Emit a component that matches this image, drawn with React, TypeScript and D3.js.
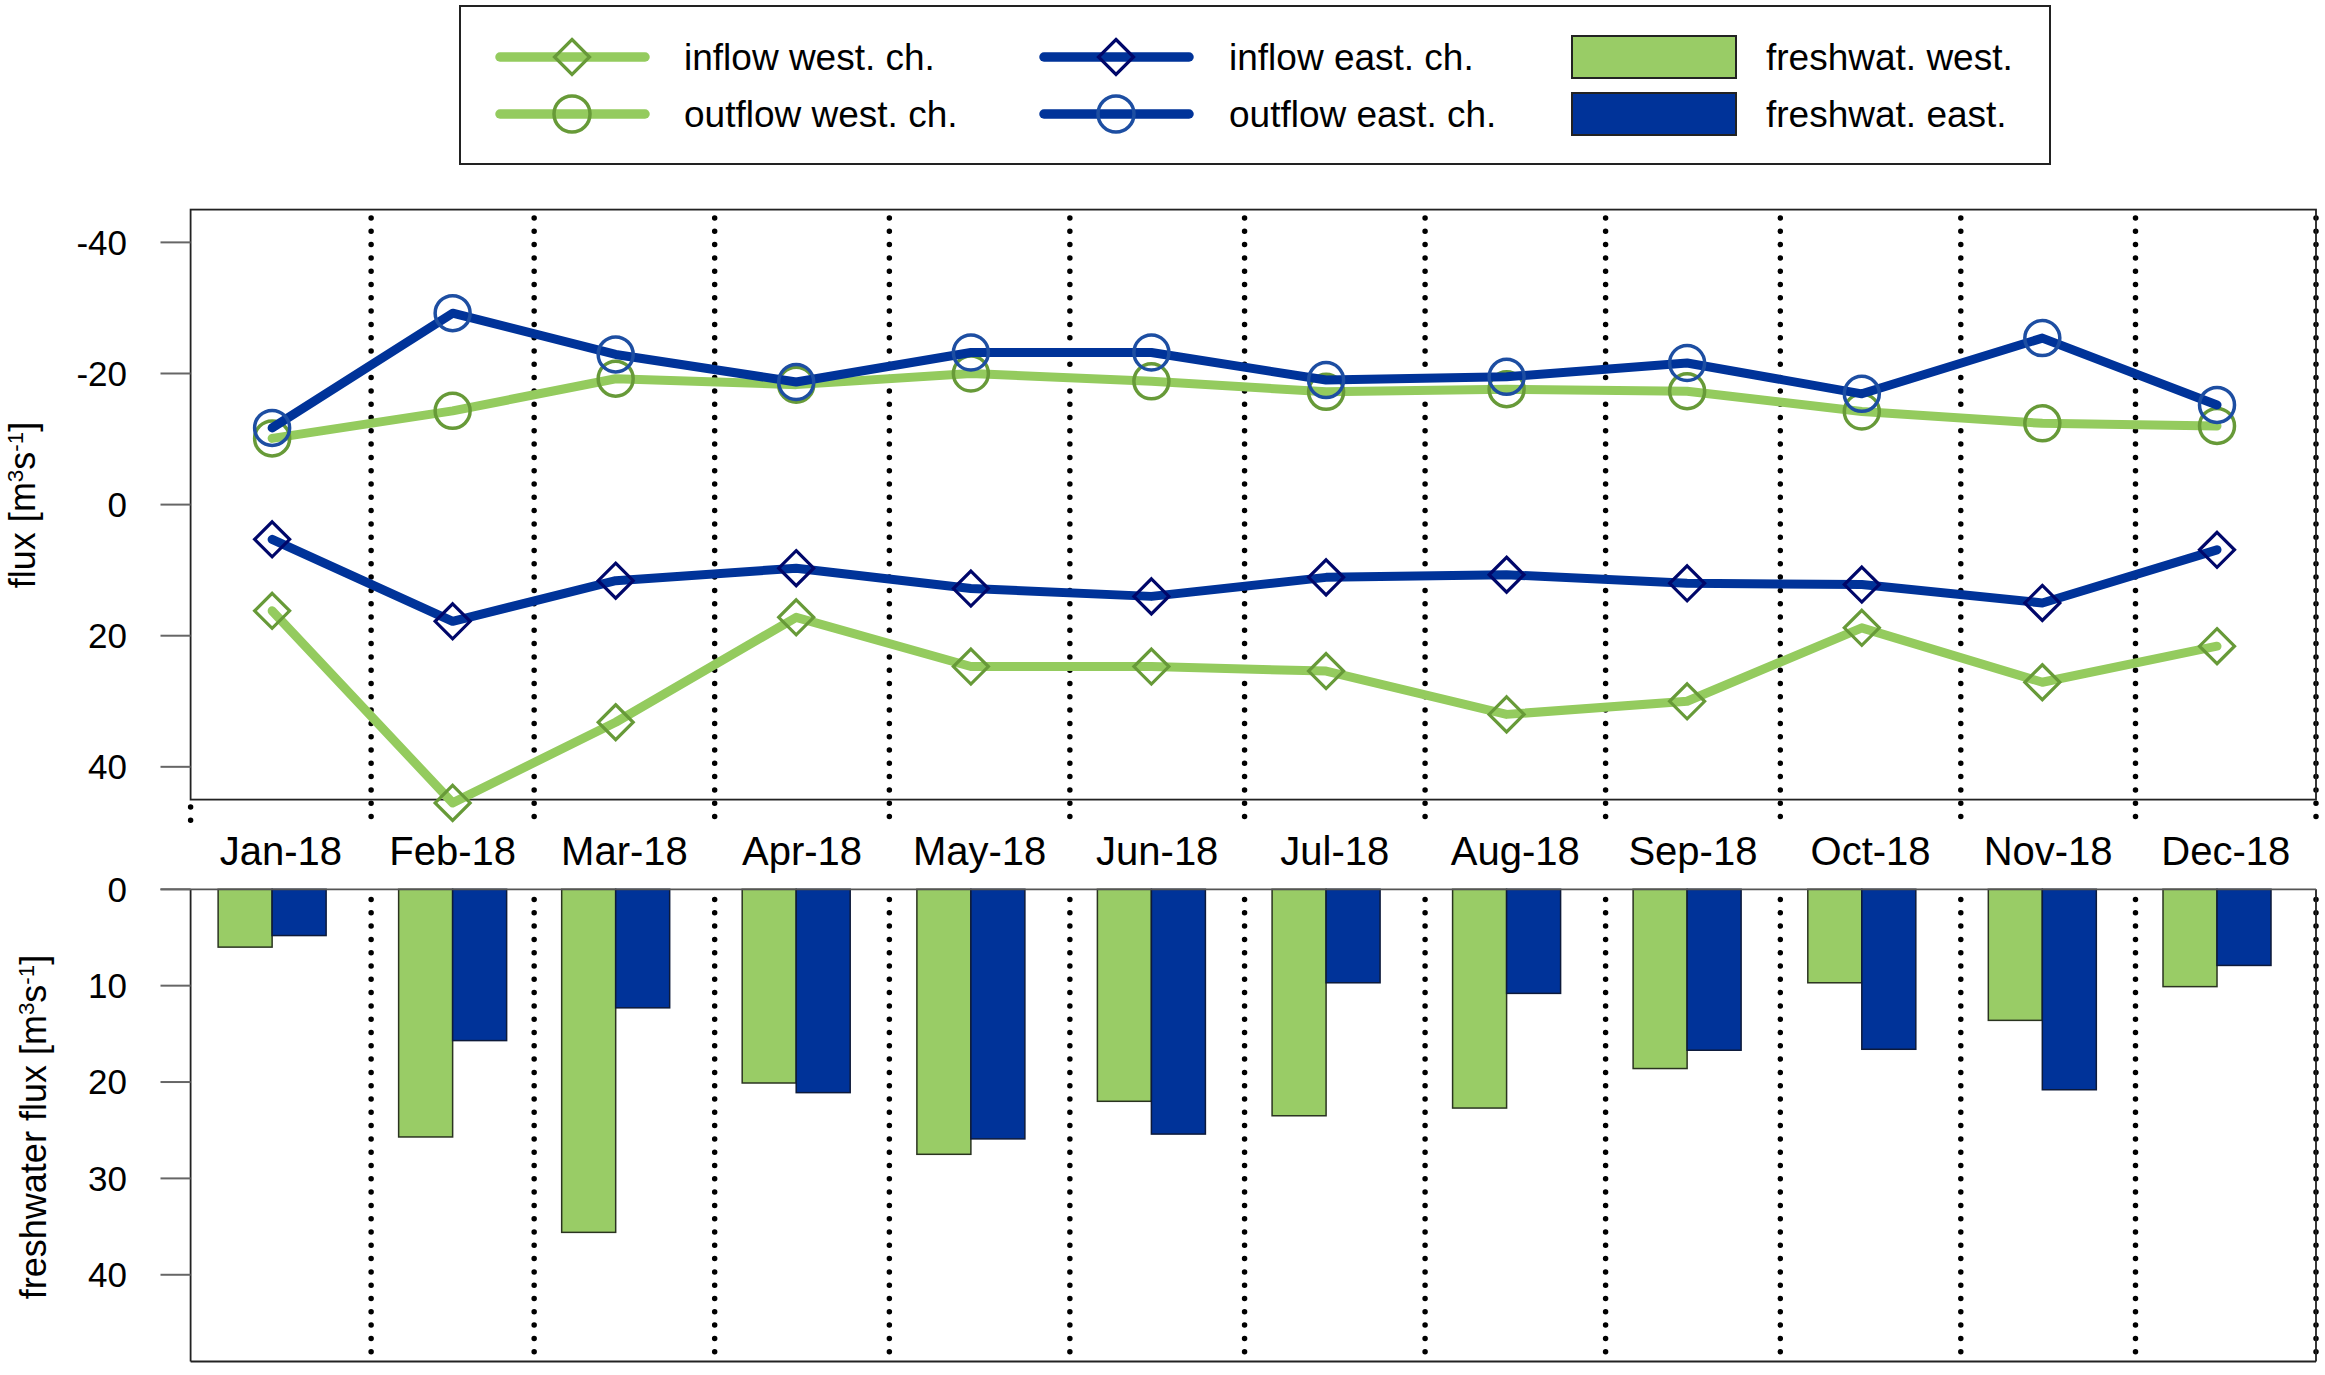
import React, { useEffect } from 'react';
import * as d3 from 'd3';

// ---------- data ----------
const months = ['Jan-18', 'Feb-18', 'Mar-18', 'Apr-18', 'May-18', 'Jun-18', 'Jul-18', 'Aug-18', 'Sep-18', 'Oct-18', 'Nov-18', 'Dec-18'];
const inflowWest = [16.2, 45.5, 33.2, 17.2, 24.7, 24.7, 25.4, 32.0, 30.0, 18.8, 27.1, 21.6];
const outflowWest = [-10.1, -14.3, -19.2, -18.3, -20.0, -18.8, -17.2, -17.6, -17.3, -14.2, -12.4, -12.0];
const inflowEast = [5.3, 17.8, 11.6, 9.7, 12.8, 14.0, 11.1, 10.7, 12.0, 12.2, 15.0, 6.9];
const outflowEast = [-11.7, -29.2, -22.9, -18.7, -23.2, -23.2, -19.0, -19.5, -21.6, -16.9, -25.4, -15.2];
const freshWest = [6.0, 25.7, 35.6, 20.1, 27.5, 22.0, 23.5, 22.7, 18.6, 9.7, 13.6, 10.1];
const freshEast = [4.8, 15.7, 12.3, 21.1, 25.9, 25.4, 9.7, 10.8, 16.7, 16.6, 20.8, 7.9];
const upperTicks = [-40, -20, 0, 20, 40];
const lowerTicks = [0, 10, 20, 30, 40];
const legendLabels = ['inflow west. ch.', 'outflow west. ch.', 'inflow east. ch.', 'outflow east. ch.', 'freshwat. west.', 'freshwat. east.'];

// ---------- styles ----------
const FONT = '"Liberation Sans", Arial, sans-serif';
const GREEN_LINE = '#94cb5e';
const GREEN_MARK = '#679a38';
const GREEN_BAR = '#99cc66';
const BLUE_LINE = '#003399';
const BLUE_CIRCLE = '#1d4ea2';
const BLUE_DIAMOND = '#00076a';
const BLUE_BAR = '#003399';

const diamondPath = (r: number) => `M0,${-r}L${r},0L0,${r}L${-r},0Z`;

export default function App() {
  useEffect(() => {
    document.body.style.margin = '0';
  }, []);

  const W = 2325;
  const H = 1375;
  const left = 190.6;
  const right = 2316;

  const x = d3
    .scaleUtc()
    .domain([new Date(Date.UTC(2018, 0, 1)), new Date(Date.UTC(2019, 0, 1))])
    .range([left, right]);
  const yU = d3.scaleLinear().domain([-45, 45]).range([209.6, 799.6]);
  const yL = d3.scaleLinear().domain([0, 49]).range([889.3, 1361.5]);

  const pointDates = months.map((_, i) => new Date(Date.UTC(2018, i, 15)));
  const midDates = months.map(
    (_, i) => new Date((Date.UTC(2018, i, 1) + Date.UTC(2018, i + 1, 1)) / 2)
  );
  const boundaries = d3.utcMonth.range(new Date(Date.UTC(2018, 0, 1)), new Date(Date.UTC(2019, 0, 2)));

  const line = d3
    .line<number>()
    .x((_, i) => x(pointDates[i]))
    .y((d) => yU(d));

  const series = [
    { values: inflowWest, color: GREEN_LINE, mark: 'diamond', mcolor: GREEN_MARK },
    { values: outflowWest, color: GREEN_LINE, mark: 'circle', mcolor: GREEN_MARK },
    { values: inflowEast, color: BLUE_LINE, mark: 'diamond', mcolor: BLUE_DIAMOND },
    { values: outflowEast, color: BLUE_LINE, mark: 'circle', mcolor: BLUE_CIRCLE },
  ];

  const barW = 54;
  const axisColor = '#222';
  const tickColor = '#666';

  const dotted = { stroke: '#000', strokeWidth: 5.5, strokeDasharray: '0 13.3', strokeLinecap: 'round' as const };

  const supText = (prefix: string, x0: number, y0: number, fs: number) => (
    <text
      transform={`translate(${x0},${y0}) rotate(-90)`}
      textAnchor="middle"
      fontSize={fs}
      fontFamily={FONT}
      fill="#000"
    >
      {prefix}[m
      <tspan baselineShift="super" fontSize={fs * 0.62}>3</tspan>
      s
      <tspan baselineShift="super" fontSize={fs * 0.62}>-1</tspan>]
    </text>
  );

  // legend layout
  const legRows = [57, 114];
  const legendLines = [
    { x1: 500, x2: 645, mx: 572, row: 0, color: GREEN_LINE, mark: 'diamond', mcolor: GREEN_MARK, tx: 684, label: legendLabels[0] },
    { x1: 500, x2: 645, mx: 572, row: 1, color: GREEN_LINE, mark: 'circle', mcolor: GREEN_MARK, tx: 684, label: legendLabels[1] },
    { x1: 1044, x2: 1189, mx: 1116, row: 0, color: BLUE_LINE, mark: 'diamond', mcolor: BLUE_DIAMOND, tx: 1229, label: legendLabels[2] },
    { x1: 1044, x2: 1189, mx: 1116, row: 1, color: BLUE_LINE, mark: 'circle', mcolor: BLUE_CIRCLE, tx: 1229, label: legendLabels[3] },
  ];
  const legendRects = [
    { fill: GREEN_BAR, row: 0, label: legendLabels[4] },
    { fill: BLUE_BAR, row: 1, label: legendLabels[5] },
  ];

  return (
    <svg width={W} height={H} style={{ display: 'block', background: '#fff' }} fontFamily={FONT}>
      <rect x={0} y={0} width={W} height={H} fill="#fff" />

      {/* ---------- legend ---------- */}
      <rect x={460} y={6} width={1590} height={158} fill="#fff" stroke="#222" strokeWidth={2} />
      {legendLines.map((l, i) => (
        <g key={'ll' + i}>
          <line x1={l.x1} x2={l.x2} y1={legRows[l.row]} y2={legRows[l.row]} stroke={l.color} strokeWidth={9.5} strokeLinecap="round" />
          {l.mark === 'diamond' ? (
            <path d={diamondPath(17.5)} transform={`translate(${l.mx},${legRows[l.row]})`} fill="none" stroke={l.mcolor} strokeWidth={3.2} />
          ) : (
            <circle cx={l.mx} cy={legRows[l.row]} r={18} fill="none" stroke={l.mcolor} strokeWidth={3.5} />
          )}
          <text x={l.tx} y={legRows[l.row]} dy="0.35em" fontSize={37} fill="#000">
            {l.label}
          </text>
        </g>
      ))}
      {legendRects.map((r, i) => (
        <g key={'lr' + i}>
          <rect x={1572} y={legRows[r.row] - 21} width={164} height={42} fill={r.fill} stroke="#222" strokeWidth={2} />
          <text x={1766} y={legRows[r.row]} dy="0.35em" fontSize={37} fill="#000">
            {r.label}
          </text>
        </g>
      ))}

      {/* ---------- upper panel ---------- */}
      {boundaries.map((d, i) => (
        <line key={'du' + i} x1={x(d)} x2={x(d)} y1={i === 0 ? 807 : 218} y2={828} {...dotted} />
      ))}
      <rect x={left} y={yU(-45)} width={right - left} height={yU(45) - yU(-45)} fill="none" stroke={axisColor} strokeWidth={1.8} />
      {upperTicks.map((t) => (
        <g key={'tu' + t}>
          <line x1={160.5} x2={left} y1={yU(t)} y2={yU(t)} stroke={tickColor} strokeWidth={2} />
          <text x={127} y={yU(t)} dy="0.35em" textAnchor="end" fontSize={35} fill="#000">
            {t}
          </text>
        </g>
      ))}
      {supText('flux ', 35, 505, 36)}

      {series.map((s, si) => (
        <g key={'s' + si}>
          <path d={line(s.values) || ''} fill="none" stroke={s.color} strokeWidth={9} strokeLinecap="round" strokeLinejoin="round" />
          {s.values.map((v, i) =>
            s.mark === 'diamond' ? (
              <path
                key={i}
                d={diamondPath(17.5)}
                transform={`translate(${x(pointDates[i])},${yU(v)})`}
                fill="none"
                stroke={s.mcolor}
                strokeWidth={3.2}
              />
            ) : (
              <circle key={i} cx={x(pointDates[i])} cy={yU(v)} r={17.5} fill="none" stroke={s.mcolor} strokeWidth={3.5} />
            )
          )}
        </g>
      ))}

      {/* month labels */}
      {months.map((m, i) => (
        <text key={'m' + i} x={x(midDates[i])} y={865} textAnchor="middle" fontSize={40} fill="#000">
          {m}
        </text>
      ))}

      {/* ---------- lower panel ---------- */}
      {months.map((_, i) => (
        <g key={'b' + i}>
          <rect
            x={x(pointDates[i]) - barW}
            y={yL(0)}
            width={barW}
            height={yL(freshWest[i]) - yL(0)}
            fill={GREEN_BAR}
            stroke="#2a3320"
            strokeWidth={1.5}
          />
          <rect
            x={x(pointDates[i])}
            y={yL(0)}
            width={barW}
            height={yL(freshEast[i]) - yL(0)}
            fill={BLUE_BAR}
            stroke="#0d1a3a"
            strokeWidth={1.5}
          />
        </g>
      ))}
      {boundaries.slice(1).map((d, i) => (
        <line key={'dl' + i} x1={x(d)} x2={x(d)} y1={899.5} y2={1361} {...dotted} />
      ))}
      <line x1={left} x2={left} y1={yL(0)} y2={yL(49)} stroke={axisColor} strokeWidth={1.8} />
      <line x1={left} x2={right} y1={yL(49)} y2={yL(49)} stroke={axisColor} strokeWidth={1.8} />
      <line x1={right} x2={right} y1={yL(0)} y2={yL(49)} stroke={axisColor} strokeWidth={1.8} />
      <line x1={160.5} x2={right} y1={yL(0)} y2={yL(0)} stroke="#555" strokeWidth={1.8} />
      {lowerTicks.map((t) => (
        <g key={'tl' + t}>
          <line x1={160.5} x2={left} y1={yL(t)} y2={yL(t)} stroke={tickColor} strokeWidth={2} />
          <text x={127} y={yL(t)} dy="0.35em" textAnchor="end" fontSize={35} fill="#000">
            {t}
          </text>
        </g>
      ))}
      {supText('freshwater flux ', 46, 1127, 36)}
    </svg>
  );
}
